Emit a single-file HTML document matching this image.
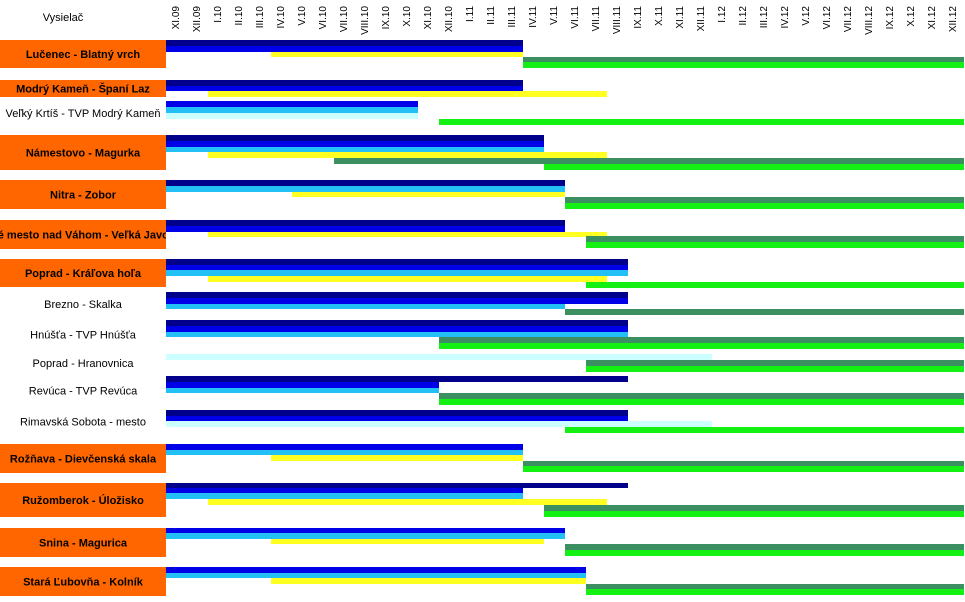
<!DOCTYPE html>
<html><head><meta charset="utf-8">
<style>
html,body{margin:0;padding:0;background:#fff;}
body{width:965px;height:597px;overflow:hidden;font-family:"Liberation Sans",Arial,sans-serif;}
svg text{font-family:"Liberation Sans",Arial,sans-serif;}
</style></head>
<body>
<svg id="chart" width="965" height="597" xmlns="http://www.w3.org/2000/svg">
<rect x="0" y="0" width="965" height="597" fill="#fff"/>
<text x="63" y="21" font-size="11" text-anchor="middle" fill="#000">Vysielač</text>
</svg>
<script>
const months = ["XI.09","XII.09","I.10","II.10","III.10","IV.10","V.10","VI.10","VII.10","VIII.10","IX.10","X.10","XI.10","XII.10","I.11","II.11","III.11","IV.11","V.11","VI.11","VII.11","VIII.11","IX.11","X.11","XI.11","XII.11","I.12","II.12","III.12","IV.12","V.12","VI.12","VII.12","VIII.12","IX.12","X.12","XI.12","XII.12"];
const stations = ["Lučenec - Blatný vrch","Modrý Kameň - Španí Laz","Veľký Krtíš - TVP Modrý Kameň","Námestovo - Magurka","Nitra - Zobor","Nové mesto nad Váhom - Veľká Javorina","Poprad - Kráľova hoľa","Brezno - Skalka","Hnúšťa - TVP Hnúšťa","Poprad - Hranovnica","Revúca - TVP Revúca","Rimavská Sobota - mesto","Rožňava - Dievčenská skala","Ružomberok - Úložisko","Snina - Magurica","Stará Ľubovňa - Kolník"];
const highlighted = [1,1,0,1,1,1,1,0,0,0,0,0,1,1,1,1];
const seriesColors = ["#00008b","#0000e8","#22c0f4","#ccffff","#ffff22","#3c8f60","#14f014"];
// segments per station: [series, startMonth, endMonth]
const segSeries = [
 [0,1,4,5,6],[0,1,4],[1,2,3,6],[0,1,2,4,5,6],[0,2,4,5,6],[0,1,4,5,6],[0,1,2,4,6],[0,1,2,5],[0,1,2,5,6],[3,5,6],[0,1,2,5,6],[0,1,3,6],[1,2,4,5,6],[0,1,2,4,5,6],[1,2,4,5,6],[1,2,4,5,6]
];
const segStart = [
 [0,0,5,17,17],[0,0,2],[0,0,0,13],[0,0,0,2,8,18],[0,0,6,19,19],[0,0,2,20,20],[0,0,0,2,20],[0,0,0,19],[0,0,0,13,13],[0,20,20],[0,0,0,13,13],[0,0,0,19],[0,0,5,17,17],[0,0,0,2,18,18],[0,0,5,19,19],[0,0,5,20,20]
];
const segEnd = [
 [17,17,17,38,38],[17,17,21],[12,12,12,38],[18,18,18,21,38,38],[19,19,19,38,38],[19,19,21,38,38],[22,22,22,21,38],[22,22,19,38],[22,22,22,38,38],[26,38,38],[22,13,13,38,38],[22,22,26,38],[17,17,17,38,38],[22,17,17,21,38,38],[19,19,18,38,38],[20,20,20,38,38]
];
// layout (pixels): band top per segment
const bandTop = [
 [40,46,52,57,62],[80,86,91],[101,107,113,119],[135,141,147,152,158,164],[180,186,192,197,203],[220,226,232,236,242],[259,265,270,276,282],[292,298,304,309],[320,326,332,337,343],[354,360,366],[376,382,388,393,399],[410,416,421,427],[444,450,455,461,466],[483,488,493,499,505,511],[528,533,539,544,550],[567,573,578,584,589]
];
const boxRange = [[40,68],[80,97],[101,125],[135,170],[180,209],[220,249],[259,287],[292,316],[320,349],[354,372],[376,405],[410,433],[444,473],[483,517],[528,557],[567,596]];
const X0 = 166, MW = 21;
const xScale = m => X0 + m*MW;
const svg = document.getElementById('chart');
const NS = "http://www.w3.org/2000/svg";
months.forEach((m,i)=>{
  const t = document.createElementNS(NS,'text');
  
  
  const cx = xScale(i)+13, cy = 6;
  t.setAttribute('x',cx); t.setAttribute('y',cy);
  t.setAttribute('font-size','10');
  t.setAttribute('text-anchor','end');
  t.setAttribute('transform','rotate(-90 '+cx+' '+cy+')');
  t.textContent = m;
  svg.appendChild(t);
});
stations.forEach((s,r)=>{
  const g = document.createElementNS(NS,'g');
  
  
  const [y0,y1] = boxRange[r];
  if(highlighted[r]){
    const b = document.createElementNS(NS,'rect');
    
    
    b.setAttribute('x',0); b.setAttribute('y',y0); b.setAttribute('width',166); b.setAttribute('height',y1-y0);
    b.setAttribute('fill','#ff6600');
    g.appendChild(b);
  }
  const cy = (y0+y1)/2 + 4;
  const t = document.createElementNS(NS,'text');
  
  
  t.setAttribute('x',83); t.setAttribute('y',cy);
  t.setAttribute('font-size','11');
  t.setAttribute('text-anchor','middle');
  if(highlighted[r]) t.setAttribute('font-weight','bold');
  t.setAttribute('clip-path','url(#labelclip)');
  t.textContent = s;
  g.appendChild(t);
  segSeries[r].forEach((si,k)=>{
    const rect = document.createElementNS(NS,'rect');
    
    
    const xa = xScale(segStart[r][k]), xb = xScale(segEnd[r][k]);
    const top = bandTop[r][k];
    const bot = k+1<bandTop[r].length ? bandTop[r][k+1] : top+6;
    rect.setAttribute('x',xa); rect.setAttribute('y',top);
    rect.setAttribute('width',Math.max(0,xb-xa)); rect.setAttribute('height',Math.max(5,bot-top));
    rect.setAttribute('fill',seriesColors[si]);
    g.appendChild(rect);
  });
  svg.appendChild(g);
});
const defs = document.createElementNS(NS,'defs');
defs.innerHTML = '<clipPath id="labelclip"><rect x="0" y="0" width="166" height="597"/></clipPath>';
svg.insertBefore(defs, svg.firstChild);
</script>
</body></html>
